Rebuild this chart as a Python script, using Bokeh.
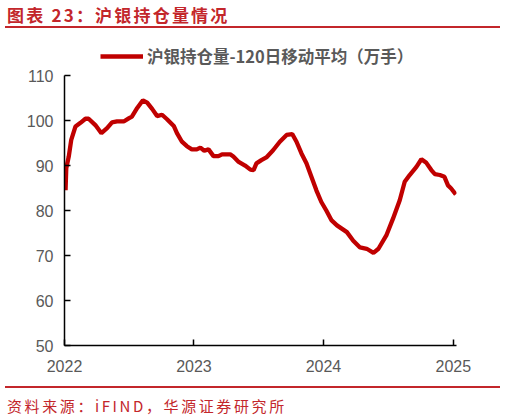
from bokeh.plotting import figure
from bokeh.models import Div, Legend, LegendItem, FixedTicker, Range1d, ColumnDataSource
from bokeh.layouts import column
from bokeh.embed import file_html
from bokeh.resources import INLINE
import pandas as pd

# ---- data ----
dates = [
    "2022-01-04", "2022-01-06", "2022-01-13", "2022-01-20", "2022-02-01", "2022-02-15",
    "2022-03-01", "2022-03-10", "2022-03-29", "2022-04-15", "2022-05-01", "2022-05-15",
    "2022-05-29", "2022-06-17", "2022-07-01", "2022-07-10", "2022-07-25", "2022-08-10",
    "2022-08-22", "2022-09-05", "2022-09-19", "2022-10-03", "2022-10-17", "2022-11-05",
    "2022-11-14", "2022-11-28", "2022-12-12", "2022-12-26", "2023-01-09", "2023-01-19",
    "2023-01-30", "2023-02-11", "2023-02-25", "2023-03-11", "2023-03-21", "2023-04-13",
    "2023-04-22", "2023-05-07", "2023-05-25", "2023-06-09", "2023-06-18", "2023-06-26",
    "2023-07-10", "2023-07-24", "2023-08-12", "2023-08-31", "2023-09-19", "2023-10-05",
    "2023-10-17", "2023-10-31", "2023-11-14", "2023-11-28", "2023-12-12", "2023-12-26",
    "2024-01-09", "2024-01-24", "2024-02-08", "2024-03-07", "2024-03-25", "2024-04-13",
    "2024-05-02", "2024-05-21", "2024-06-04", "2024-06-27", "2024-07-15", "2024-08-03",
    "2024-08-17", "2024-08-31", "2024-09-19", "2024-10-03", "2024-10-17", "2024-10-31",
    "2024-11-10", "2024-11-24", "2024-12-07", "2024-12-17", "2024-12-26", "2025-01-08",
]
holdings = [
    84.5, 89.4, 92.0, 95.7, 98.7, 99.5,
    100.4, 100.4, 99.0, 97.2, 98.3, 99.6,
    99.8, 99.8, 100.5, 100.9, 102.8, 104.5,
    104.0, 102.6, 101.0, 101.3, 100.3, 98.8,
    97.2, 95.3, 94.3, 93.6, 93.6, 94.0,
    93.3, 93.6, 92.1, 92.1, 92.5, 92.5,
    92.0, 90.8, 90.0, 89.1, 89.0, 90.5,
    91.2, 91.8, 93.4, 95.3, 96.8, 97.0,
    95.3, 92.7, 90.5, 87.5, 84.5, 81.9,
    80.0, 77.8, 76.7, 75.2, 73.3, 71.8,
    71.5, 70.6, 71.5, 74.6, 78.2, 82.3,
    86.4, 87.9, 89.7, 91.4, 90.6, 89.0,
    88.1, 87.9, 87.5, 85.6, 84.9, 83.6,
]
y_ticks = [50, 60, 70, 80, 90, 100, 110]
x_tick_dates = ["2022-01-01", "2023-01-01", "2024-01-01", "2025-01-01"]
x_tick_labels = ["2022", "2023", "2024", "2025"]
series_name = "沪银持仓量-120日移动平均（万手）"
title_text = "图表 23：沪银持仓量情况"
source_text = "资料来源：iFIND，华源证券研究所"

RED = "#c3262b"
LINE = "#c00000"
GREY = "#595959"

src = ColumnDataSource(dict(x=pd.to_datetime(dates), y=holdings))

# frame spans abs y 40..345; the value axis itself covers 50..110 (75..345)
p = figure(width=506, height=352, x_axis_type="datetime",
           output_backend="svg", toolbar_location=None,
           x_range=Range1d(pd.Timestamp("2022-01-01"), pd.Timestamp("2025-01-10")),
           y_range=Range1d(50, 117.8),
           min_border_left=64, min_border_right=50, min_border_top=7, min_border_bottom=40,
           background_fill_color="white", border_fill_color="white")
p.outline_line_color = None
p.xgrid.visible = False
p.ygrid.visible = False

r = p.line("x", "y", source=src, line_color=LINE, line_width=4.3)

tick_ms = [pd.Timestamp(d).value // 10**6 for d in x_tick_dates]
p.xaxis.ticker = FixedTicker(ticks=tick_ms)
p.xaxis.major_label_overrides = {t: lab for t, lab in zip(tick_ms, x_tick_labels)}
p.yaxis.ticker = FixedTicker(ticks=y_ticks)
p.yaxis.bounds = (y_ticks[0], y_ticks[-1])

for ax in (p.xaxis, p.yaxis):
    ax.axis_line_color = "#000000"
    ax.axis_line_width = 1.5
    ax.major_tick_line_color = "#000000"
    ax.major_tick_line_width = 1.5
    ax.major_tick_in = 6
    ax.major_tick_out = 0
    ax.minor_tick_line_color = None
    ax.major_label_text_color = GREY
    ax.major_label_text_font = "Liberation Sans"
    ax.major_label_text_font_size = "16px"
p.xaxis.major_label_standoff = 14
p.yaxis.major_label_standoff = 11

legend = Legend(items=[LegendItem(label=series_name, renderers=[r])],
                orientation="horizontal", location=(36, 277),
                border_line_color=None, background_fill_alpha=0,
                label_text_font="Noto Sans CJK SC", label_text_font_style="bold",
                label_text_color=GREY, label_text_font_size="16.5px",
                glyph_width=43, glyph_height=16, label_standoff=4,
                padding=0, margin=0, spacing=0)
p.add_layout(legend, "center")

header = Div(
    text=(f'<div style="position:absolute;left:5px;top:0px;width:495px;height:28px;'
          f'border-bottom:2px solid {RED};"></div>'
          f'<div style="position:absolute;left:7px;top:4px;white-space:nowrap;'
          f'font-family:\'Noto Sans CJK SC\';font-weight:bold;font-size:17px;line-height:22px;'
          f'letter-spacing:2.2px;color:{RED};">{title_text}</div>'),
    width=506, height=33, margin=(0, 0, 0, 0),
    styles={"position": "relative", "background": "white"})

footer = Div(
    text=(f'<div style="position:absolute;left:5px;top:1px;width:495px;height:0px;'
          f'border-top:2px solid {RED};"></div>'
          f'<div style="position:absolute;left:7px;top:11px;white-space:nowrap;'
          f'font-family:\'Noto Sans CJK SC\';font-size:15px;line-height:20px;'
          f'letter-spacing:2.6px;color:{RED};">{source_text}</div>'),
    width=506, height=35, margin=(0, 0, 0, 0),
    styles={"position": "relative", "background": "white"})

layout = column(header, p, footer, spacing=0, margin=(0, 0, 0, 0))

open("out.html", "w").write(file_html(layout, INLINE))
